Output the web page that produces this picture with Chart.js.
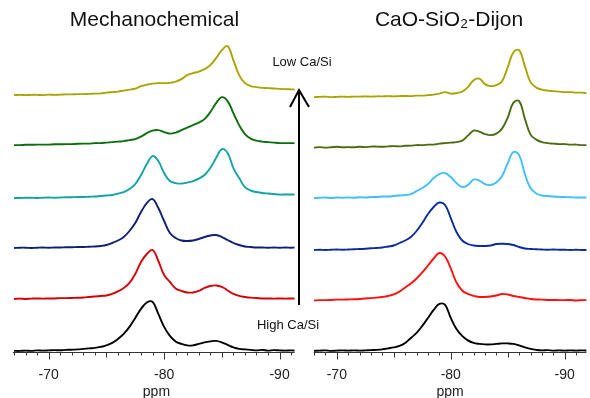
<!DOCTYPE html>
<html>
<head>
<meta charset="utf-8">
<script src="https://cdn.jsdelivr.net/npm/chart.js@4/dist/chart.umd.min.js"></script>
<style>
  html, body { margin: 0; padding: 0; background: #fff; overflow: hidden; width: 590px; height: 398px; }
  canvas { position: absolute; top: 0; }
  #left { left: 0; }
  #right { left: 300px; }
</style>
</head>
<body>
<canvas id="left" width="340" height="405"></canvas>
<canvas id="right" width="290" height="405"></canvas>

<script>
// chemical shift axis (ppm) for each panel
const leftPpm = [-67, -67.5, -68, -68.5, -69, -69.5, -70, -70.5, -71, -71.5, -72, -72.5, -73, -73.5, -74, -74.5,
  -75, -75.5, -76, -76.5, -77, -77.5, -78, -78.5, -79, -79.5, -80, -80.5, -81, -81.5, -82, -82.5, -83, -83.5,
  -84, -84.5, -85, -85.5, -86, -86.5, -87, -87.5, -88, -88.5, -89, -89.5, -90, -90.5, -91, -91.3];
const rightPpm = [-68, -68.5, -69, -69.5, -70, -70.5, -71, -71.5, -72, -72.5, -73, -73.5, -74, -74.5,
  -75, -75.5, -76, -76.5, -77, -77.5, -78, -78.5, -79, -79.5, -80, -80.5, -81, -81.5, -82, -82.5, -83, -83.5,
  -84, -84.5, -85, -85.5, -86, -86.5, -87, -87.5, -88, -88.5, -89, -89.5, -90, -90.5, -91, -91.5, -92];

// Mechanochemical spectra, high Ca/Si (bottom) to low Ca/Si (top)
const mechBlack = [0, 0, 0.3, 0, 0.5, 0.3, 0.5, 0.8, 0.6, 1, 1.2, 1.5, 2, 2.5, 3, 4, 5.5, 8, 12, 17, 24, 33, 42, 48.5, 49,
  37, 24, 15, 9.5, 7, 5.5, 5.5, 7, 8.5, 9.5, 10, 8.5, 6, 3.5, 2, 1.5, 1, 0.5, 1, 0.3, 0.8, 0.5, 0.3, 0.5, 0.3];
const mechRed = [0, 0.3, 0, 0.3, 0.5, 0.3, 0.5, 0.5, 0.8, 0.8, 1, 1.2, 1.5, 2, 2.5, 3, 3.5, 5, 7.5, 11, 16, 25, 37, 45, 49,
  38, 24, 17, 10.5, 8, 6.5, 6.5, 8, 11, 13, 13.5, 12, 8.5, 5, 3, 2, 1.3, 1, 0.5, 0.5, 0.3, 0.5, 0.3, 0.5, 0.3];
const mechNavy = [0, 0.3, 0.3, 0, 0.3, 0.5, 0.3, 0.5, 0.5, 0.8, 0.8, 1, 1, 1.3, 1.5, 2, 3, 5, 7.5, 11, 17, 25, 36, 45, 49,
  40, 27, 15, 10, 7.5, 7, 7.5, 9, 11, 12.5, 13, 11, 8, 5, 3, 1.5, 1, 0.5, 0.5, 0.3, 0.5, 0.3, 0.5, 0.3, 0.5];
const mechTeal = [0, 0, 0.3, 0.3, 0, 0.3, 0.5, 0.3, 0.5, 0.8, 0.8, 1, 1, 1.3, 1.5, 2, 2.5, 3, 4.5, 6, 9, 14, 23, 34, 42,
  37, 25, 17, 15, 14.5, 15.5, 17, 19.5, 23, 30, 40, 49, 45, 30, 20, 11, 7.5, 6, 5, 4.5, 4, 3.5, 3.5, 3.5, 3.5];
const mechGreen = [0, 0, 0.3, 0.3, 0.5, 0.5, 0.5, 0.8, 0.8, 1, 1, 1.3, 1.5, 1.5, 2, 2, 2.5, 3, 3.5, 4, 5, 6, 8.5, 12, 14.5,
  15, 13, 11.5, 12.5, 15, 17.5, 20, 22.5, 26, 33, 42, 48, 44, 32, 20, 11, 6.5, 4.5, 3.5, 3, 2.5, 2, 2, 2, 2];
const mechOlive = [0, 0.3, 0, 0.3, 0.3, 0, 0.5, 0.3, 0.5, 0.8, 0.8, 1, 1, 1.3, 1.5, 1.8, 2.5, 3, 3.5, 4.5, 5.5, 6.5, 9, 10.5, 11.5,
  12, 12, 12.3, 13.5, 16, 20, 22, 23.5, 26, 30, 37, 45, 49, 35, 20, 12, 9, 8, 7.3, 7, 6.7, 6.3, 6, 5.8, 5.7];

// CaO-SiO2-Dijon spectra, high Ca/Si (bottom) to low Ca/Si (top)
const dijonBlack = [0, 0.3, 0.5, 0, 0.3, 0.5, 0.3, 0.5, 0.3, 0.5, 0.8, 1, 1.5, 2.5, 3.5, 5, 8, 13, 18, 25, 33, 41, 47, 46,
  33, 22, 15, 10.5, 8, 7, 6.5, 6.5, 7, 7.5, 7.5, 7, 5.5, 3.5, 2, 1, 0.5, 0.8, 0.3, 0.5, 0.3, 0.5, 0.3, 0.5, 0.3];
const dijonRed = [0, 0.3, 0.3, 0.5, 0.8, 0.8, 1, 1.2, 1.5, 2, 2.3, 2.8, 3.5, 4.5, 6, 9, 13, 17, 22, 28, 35, 42, 47.5, 44,
  32, 18, 10, 6.5, 4.5, 3.5, 3.5, 4, 5, 6.5, 6, 4.5, 3.5, 2.5, 1.5, 1, 0.8, 0.5, 0.5, 0.3, 0.3, 0.5, 0, 0.3, 0.3];
const dijonNavy = [0, 0.3, 0, 0.3, 0.5, 0.3, 0.5, 0.8, 1, 1.3, 1.7, 2, 2.5, 3.5, 4.5, 7, 9.5, 13, 19, 27, 36, 43, 47.5, 45,
  32, 18, 9.5, 6, 4.5, 4, 4, 4.5, 6, 6.3, 6, 5, 3, 1.5, 1, 0.8, 0.5, 0.3, 0.5, 0.3, 0.3, 0, 0.3, 0, 0];
const dijonBlue = [0, 0.3, 0.5, 0, 0.5, 0.3, 0.5, 0.3, 0.8, 0.5, 1, 1, 1.5, 1.5, 2, 2.5, 3, 4, 7, 10, 14, 20, 24, 25,
  21, 15, 11, 13, 18.5, 17.5, 14, 13, 15.5, 22, 35, 46, 43, 24, 10, 4.5, 2.5, 2, 1.5, 1.2, 1, 0.8, 0.5, 0.5, 0.5];
const dijonGreen = [0, 0.5, 0, 0.3, 0.8, 0.3, 0.5, 0.3, 0.8, 0.5, 1, 1, 0.8, 1.2, 1.5, 1.2, 1.8, 2, 2.5, 2.5, 3, 3, 4, 4.5,
  5, 5.5, 7, 12, 17, 16, 13.5, 12.5, 14, 19, 30, 45, 46.5, 29, 13, 8, 5.5, 4.5, 4, 3.5, 3.5, 3, 3, 2.5, 2.5];
const dijonOlive = [0, 0.3, 0.5, 0, 0.3, 0.5, 0.3, 0.5, 0.5, 0.8, 0.5, 0.8, 0.8, 1, 0.8, 1, 1.2, 1, 1.5, 1.5, 2, 2.5, 3.5, 5,
  3.5, 4, 5.5, 10, 17, 18.5, 13, 11, 12, 16, 30, 45, 47, 31, 15, 9.5, 7.5, 6.5, 6, 5.5, 5, 5, 4.5, 4.5, 4];

// vertical stacking offsets of each trace
const mechOffsets = [0, 52, 103, 153, 206, 256];
const dijonOffsets = [0, 50.5, 101, 153, 203.5, 254];

const FONT = "'Liberation Sans', Arial, sans-serif";

// axis line with minor / mid / major tick marks, placed through the x scale
const tickMarks = {
  id: 'tickMarks',
  afterDraw(chart, args, opts) {
    const sx = chart.scales.x, ctx = chart.ctx;
    const from = opts.span[0], to = opts.span[1];
    const y = Math.round(sx.top) + 0.5;
    ctx.save();
    ctx.strokeStyle = '#333';
    ctx.lineWidth = 1;
    ctx.beginPath();
    ctx.moveTo(sx.getPixelForValue(from), y);
    ctx.lineTo(sx.getPixelForValue(to), y);
    for (let v = Math.ceil(to); v <= Math.floor(from); v++) {
      const px = Math.round(sx.getPixelForValue(v)) + 0.5;
      const len = v % 10 === 0 ? 7 : (v % 5 === 0 ? 5 : 3);
      ctx.moveTo(px, y);
      ctx.lineTo(px, y + len);
    }
    ctx.stroke();
    ctx.restore();
  }
};

// Ca/Si arrow between the two panels
const caSiArrow = {
  id: 'caSiArrow',
  afterDraw(chart) {
    const ctx = chart.ctx;
    const x = chart.chartArea.right - 1;
    ctx.save();
    ctx.strokeStyle = '#000';
    ctx.lineWidth = 2;
    ctx.beginPath();
    ctx.moveTo(x, 305);
    ctx.lineTo(x, 91);
    ctx.moveTo(x - 9, 107);
    ctx.lineTo(x, 90);
    ctx.lineTo(x + 10, 107);
    ctx.stroke();
    ctx.fillStyle = '#111';
    ctx.font = '13px ' + FONT;
    ctx.textAlign = 'center';
    ctx.textBaseline = 'middle';
    ctx.fillText('Low Ca/Si', x + 3, 62);
    ctx.fillText('High Ca/Si', x - 11, 325);
    ctx.restore();
  }
};

function makeDatasets(ppm, series, offsets, colors) {
  return series.map((vals, k) => ({
    data: ppm.map((p, i) => ({ x: p, y: vals[i] + offsets[k] })),
    borderColor: colors[k],
    borderWidth: 1.9,
    pointRadius: 0,
    fill: false,
    tension: 0.4
  }));
}

function makeChart(id, title, datasets, xMin, xMax, span, padding, extraPlugins) {
  return new Chart(document.getElementById(id), {
    type: 'line',
    data: { datasets: datasets },
    plugins: [tickMarks].concat(extraPlugins),
    options: {
      responsive: false,
      animation: false,
      layout: { padding: padding },
      scales: {
        x: {
          type: 'linear',
          reverse: true,
          min: xMin,
          max: xMax,
          grid: { display: false, drawTicks: false },
          border: { display: false },
          ticks: {
            stepSize: 1,
            includeBounds: false,
            autoSkip: false,
            maxRotation: 0,
            padding: 14,
            color: '#222',
            font: { size: 14, family: FONT },
            callback: v => (v % 10 === 0 ? String(v) : '')
          },
          title: {
            display: true,
            text: 'ppm',
            color: '#222',
            font: { size: 14, family: FONT },
            padding: { top: -13, bottom: 4 }
          }
        },
        y: { display: false, min: -1.5, max: 318 }
      },
      plugins: {
        legend: { display: false },
        tooltip: { enabled: false },
        tickMarks: { span: span },
        title: {
          display: true,
          text: title,
          color: '#111',
          font: { size: 21, family: FONT, weight: 'normal' },
          padding: { top: 8, bottom: 0 }
        }
      }
    }
  });
}

makeChart('left', 'Mechanochemical',
  makeDatasets(leftPpm, [mechBlack, mechRed, mechNavy, mechTeal, mechGreen, mechOlive], mechOffsets,
    ['#000000', '#d40008', '#0e1f74', '#12a4a4', '#0c6e0c', '#aaa400']),
  -91.77, -66.9, [-66.9, -91.3], { left: 9, right: 40, top: 0, bottom: 0 }, [caSiArrow]);

makeChart('right', 'CaO-SiO\u2082-Dijon',
  makeDatasets(rightPpm, [dijonBlack, dijonRed, dijonNavy, dijonBlue, dijonGreen, dijonOlive], dijonOffsets,
    ['#000000', '#ff1010', '#0a2a9e', '#40bfff', '#4a6c12', '#aaa400']),
  -91.9, -67.97, [-67.97, -91.9], { left: 9, right: 1, top: 0, bottom: 0 }, []);
</script>
</body>
</html>
